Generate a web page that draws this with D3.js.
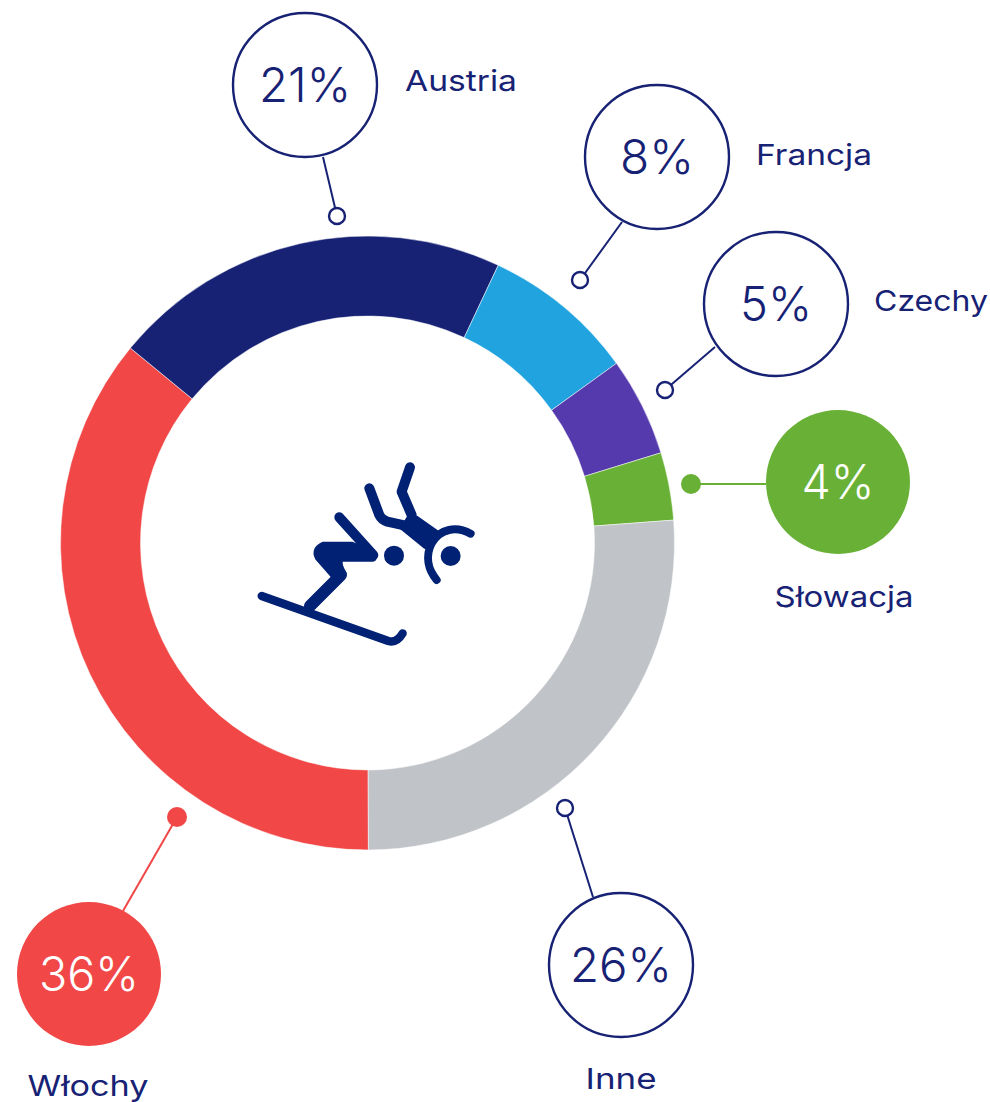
<!DOCTYPE html>
<html>
<head>
<meta charset="utf-8">
<script src="https://cdnjs.cloudflare.com/ajax/libs/d3/7.8.5/d3.min.js"></script>
<style>
  html, body { margin: 0; padding: 0; background: #fff; }
  svg { display: block; }
  text { font-family: Inter, "Open Sans", sans-serif; text-anchor: middle; }
</style>
</head>
<body>
<div id="c_plot"></div>
<script>
// Data, clockwise starting from the bottom of the ring
var names = ["Włochy", "Austria", "Francja", "Czechy", "Słowacja", "Inne"];
var shares = [36, 21, 8, 5, 4, 26];
// the ring itself is not drawn quite to the printed shares
var ringShares = [36, 21.05, 8.05, 5.2, 3.56, 26.14];
var colors = ["#f14747", "#172274", "#20a3df", "#553aad", "#69b136", "#c0c3c7"];
var filled = [true, false, false, false, true, false];

// Callout layout: [bubble x, bubble y, dot x, dot y, line end x, line end y, label x, label y]
var callouts = [
  [89, 974, 177, 817, 123, 911, 88, 1086],
  [305, 85, 337, 216, 323, 157, 461, 81],
  [657, 157, 580, 280, 622, 222, 814, 155],
  [776, 304, 665, 390, 715, 347, 931, 301],
  [838, 482, 691, 484, 766, 484, 844, 597],
  [621, 965, 565, 808, 593, 897, 621, 1079]
];
// Measured text widths, the original face is wider than anything installed
var labelWidths = [121, 112, 116, 114, 139, 71];
var shareWidths = [100, 92, 74, 72, 73, 102];

var width = 990, height = 1102;
var cx = 367.5, cy = 543;
var outerR = 307, innerR = 227;
var bubbleR = 72, dotR = 8;
var navy = "#172274";
var iconColor = "#002174";

var svg = d3.select("#c_plot")
  .append("svg")
  .attr("width", width)
  .attr("height", height);

// Ring
var pie = d3.pie().sort(null).startAngle(Math.PI - 0.003).endAngle(3 * Math.PI - 0.003);
var arc = d3.arc().innerRadius(innerR).outerRadius(outerR);

svg.append("g")
  .attr("transform", "translate(" + cx + "," + cy + ")")
  .selectAll("path")
  .data(pie(ringShares))
  .join("path")
  .attr("d", arc)
  .attr("fill", (d, i) => colors[i])
  .attr("stroke", "#fff")
  .attr("stroke-width", 0.5);

// Callouts
for(var i=0; i<names.length; i++)
{
  var c = callouts[i];
  var lineColor = filled[i] ? colors[i] : navy;

  svg.append("line")
    .attr("x1", c[2]).attr("y1", c[3])
    .attr("x2", c[4]).attr("y2", c[5])
    .attr("stroke", lineColor)
    .attr("stroke-width", 2);

  svg.append("circle")
    .attr("cx", c[0]).attr("cy", c[1]).attr("r", bubbleR)
    .attr("fill", filled[i] ? colors[i] : "#fff")
    .attr("stroke", filled[i] ? "none" : navy)
    .attr("stroke-width", 2.4);

  svg.append("circle")
    .attr("cx", c[2]).attr("cy", c[3]).attr("r", filled[i] ? dotR + 2 : dotR)
    .attr("fill", filled[i] ? colors[i] : "#fff")
    .attr("stroke", filled[i] ? "none" : navy)
    .attr("stroke-width", 2.4);

  svg.append("text")
    .attr("x", c[0]).attr("y", c[1] + 17)
    .attr("font-size", 48)
    .attr("font-weight", 300)
    .attr("textLength", shareWidths[i])
    .attr("lengthAdjust", "spacingAndGlyphs")
    .attr("fill", filled[i] ? "#fff" : navy)
    .text(shares[i] + "%");

  svg.append("text")
    .attr("x", c[6]).attr("y", c[7] + 10)
    .attr("font-size", 29)
    .attr("font-weight", 400)
    .attr("textLength", labelWidths[i])
    .attr("lengthAdjust", "spacingAndGlyphs")
    .attr("fill", navy)
    .text(names[i]);
}

// Centre pictogram, traced in a 3x grid
var icon = svg.append("g")
  .attr("transform", "translate(240,440) scale(0.3333)");

var strokes = [
  ["M65,468 L445,603 Q470,610 488,580", 25],
  ["M298,232 L400,345", 30],
  ["M210,498 L303,405", 36],
  ["M510,82 L485,155 L515,225", 30],
  ["M388,145 L418,225 Q425,240 442,245 L500,258", 30],
  ["M692,281 C650,258 600,265 575,310 C555,350 565,390 590,420", 24]
];
strokes.forEach(function(s){
  icon.append("path")
    .attr("d", s[0])
    .attr("fill", "none")
    .attr("stroke", iconColor)
    .attr("stroke-width", s[1])
    .attr("stroke-linecap", "round")
    .attr("stroke-linejoin", "round");
});

var shapes = [
  "M250,310 L335,310 L400,335 Q412,358 398,360 L305,360 Q298,372 315,400 L290,420 L278,410 L230,355 Q215,325 250,310 Z",
  "M505,232 L530,232 L595,278 L555,322 L485,265 Z"
];
shapes.forEach(function(s){
  icon.append("path")
    .attr("d", s)
    .attr("fill", iconColor)
    .attr("stroke", iconColor)
    .attr("stroke-width", 10)
    .attr("stroke-linejoin", "round");
});

var heads = [[462, 347], [632, 348]];
heads.forEach(function(h){
  icon.append("circle")
    .attr("cx", h[0]).attr("cy", h[1]).attr("r", 30)
    .attr("fill", iconColor);
});
</script>
</body>
</html>
